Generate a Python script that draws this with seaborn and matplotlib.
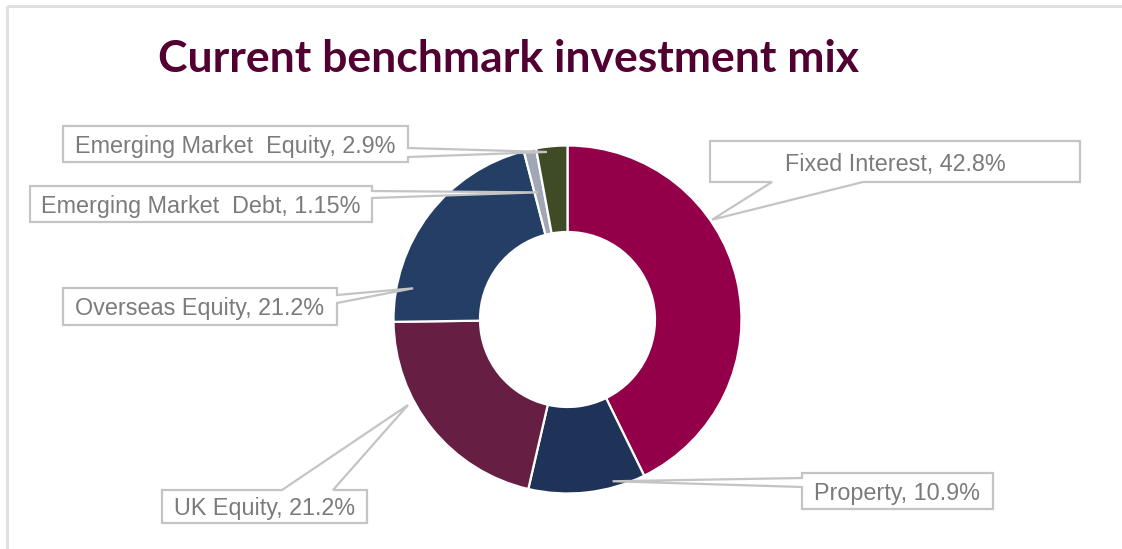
import matplotlib
matplotlib.use("Agg")
import matplotlib.pyplot as plt
from matplotlib.patches import Polygon
import numpy as np
import seaborn as sns

# Benchmark allocation, clockwise from 12 o'clock
categories = ["Fixed Interest", "Property", "UK Equity", "Overseas Equity",
              "Emerging Market  Debt", "Emerging Market  Equity"]
weights = [42.8, 10.9, 21.2, 21.2, 1.15, 2.9]
weight_labels = ["42.8%", "10.9%", "21.2%", "21.2%", "1.15%", "2.9%"]
slice_colors = ["#930049", "#1F3359", "#661E42", "#243E66", "#A2A7B6", "#3F4A27"]

title = "Current benchmark investment mix"

sns.set_theme(style="white")
plt.rcParams["font.family"] = ["Liberation Sans", "DejaVu Sans"]

W, H = 1122, 549
fig = plt.figure(figsize=(W / 100, H / 100), dpi=100)
ax = fig.add_axes([0, 0, 1, 1])


def py(y):
    """Convert a top-down pixel row into the axes' bottom-up coordinate."""
    return H - y


palette = sns.color_palette(slice_colors)
center = (567.5, py(319.5))
outer_r = 174
wedges, _ = ax.pie(weights, colors=palette, startangle=90, counterclock=False,
                   center=center, radius=outer_r,
                   wedgeprops=dict(width=86.5, edgecolor="white", linewidth=1.6))

ax.set_xlim(0, W)
ax.set_ylim(0, H)
ax.set_aspect("equal")
ax.axis("off")

# Callout boxes: (left, top, right, bottom) in pixel rows, side carrying the
# pointer, pointer base along that side, and where along the slice it points
callouts = [
    ((710, 141, 1080, 182), "bottom", (772, 863), 0.36, 1.01),
    ((802, 473, 993, 509), "left", (478, 487), 0.27, 0.965),
    ((162, 490, 367, 523), "top", (282, 333), 0.64, 1.04),
    ((63, 288, 337, 325), "right", (295, 303), 0.16, 0.905),
    ((30, 186, 372, 222), "right", (191, 198), 0.37, 0.75),
    ((63, 126, 408, 162), "right", (148, 157), 0.33, 0.97),
]

edge_grey = "#C4C4C4"
text_grey = "#7B7B7B"

for wedge, name, lab, (box, side, base, frac, rf) in zip(
        wedges, categories, weight_labels, callouts):
    ang = np.deg2rad(wedge.theta2 - frac * (wedge.theta2 - wedge.theta1))
    cx, cy = wedge.center
    tip = (cx + rf * wedge.r * np.cos(ang), cy + rf * wedge.r * np.sin(ang))
    l, t, r, b = box
    b1, b2 = base
    pts = [(l, py(t))]
    if side == "top":
        pts += [(b1, py(t)), tip, (b2, py(t))]
    pts += [(r, py(t))]
    if side == "right":
        pts += [(r, py(b1)), tip, (r, py(b2))]
    pts += [(r, py(b))]
    if side == "bottom":
        pts += [(b2, py(b)), tip, (b1, py(b))]
    pts += [(l, py(b))]
    if side == "left":
        pts += [(l, py(b2)), tip, (l, py(b1))]
    ax.add_patch(Polygon(pts, closed=True, facecolor="white",
                         edgecolor=edge_grey, linewidth=1.6, zorder=5))
    ax.text((l + r) / 2, py((t + b) / 2), f"{name}, {lab}", ha="center",
            va="center_baseline", fontsize=16.8, color=text_grey, zorder=6)

# Title
ax.text(508.5, py(72), title, ha="center", va="baseline", fontsize=32,
        fontweight="bold", family=["Lato", "DejaVu Sans"], color="#510031")

# Chart frame (top and left edges)
ax.plot([7.5, W], [py(5.5), py(5.5)], color="#E0E0E0", lw=2.2,
        solid_capstyle="butt", zorder=1)
ax.plot([7.5, 7.5], [py(5.5), 0], color="#E0E0E0", lw=2.2,
        solid_capstyle="butt", zorder=1)

fig.savefig("out.png", dpi=100, facecolor="white")
